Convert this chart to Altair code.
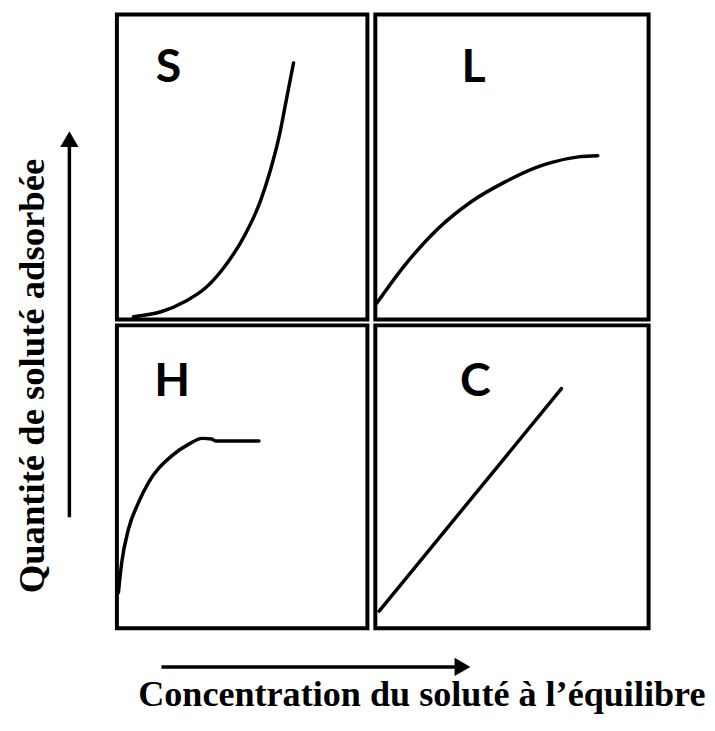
import altair as alt
import pandas as pd

# ---- data (fractions of each panel's width / height) ----
S_x = [0.066, 0.179, 0.272, 0.352, 0.425, 0.511, 0.572, 0.613, 0.649, 0.675, 0.705]
S_y = [0.009, 0.026, 0.059, 0.102, 0.168, 0.277, 0.386, 0.490, 0.605, 0.714, 0.841]
L_x = [0.005, 0.109, 0.231, 0.351, 0.475, 0.597, 0.646, 0.743, 0.814]
L_y = [0.053, 0.179, 0.299, 0.386, 0.451, 0.501, 0.515, 0.533, 0.537]
H_x = [0.006, 0.019, 0.046, 0.086, 0.126, 0.220, 0.287, 0.340, 0.379, 0.393, 0.567]
H_y = [0.118, 0.216, 0.327, 0.415, 0.481, 0.570, 0.608, 0.627, 0.625, 0.618, 0.618]
C_x = [0.014, 0.681]
C_y = [0.057, 0.791]

panel_names = ["S", "L", "H", "C"]
label_x = [0.206, 0.360, 0.221, 0.366]
label_y = [0.779, 0.779, 0.768, 0.768]

y_title = "Quantité de soluté adsorbée"
x_title = "Concentration du soluté à l’équilibre"

# arrows and titles (fractions of their strips)
y_arrow_x = [0.610, 0.610]
y_arrow_y = [0.181, 0.797]
x_arrow_x = [0.0756, 0.5866]
x_arrow_y = [0.534, 0.534]
y_title_pos = [0.350, 0.411]
x_title_pos = [0.5176, 0.0]


def unit_scale():
    return alt.Scale(domain=[0, 1], nice=False, zero=False)


def xy():
    return dict(
        x=alt.X("x:Q", scale=unit_scale(), axis=None),
        y=alt.Y("y:Q", scale=unit_scale(), axis=None),
    )


def panel(name, xs, ys, lx, ly, w, h):
    line = alt.Chart(pd.DataFrame({"x": xs, "y": ys})).mark_line(
        color="black", strokeWidth=3.5, interpolate="monotone", strokeCap="round"
    ).encode(**xy())
    label = alt.Chart(pd.DataFrame({"x": [lx], "y": [ly], "t": [name]})).mark_text(
        font="Lato", fontWeight="bold", fontSize=47, align="center",
        baseline="alphabetic", color="black"
    ).encode(text="t:N", **xy())
    return alt.layer(line, label).properties(
        width=w, height=h,
        view=alt.ViewBackground(stroke="black", strokeWidth=4, fill="white"),
    )


pS = panel(panel_names[0], S_x, S_y, label_x[0], label_y[0], 253, 308)
pL = panel(panel_names[1], L_x, L_y, label_x[1], label_y[1], 276, 308)
pH = panel(panel_names[2], H_x, H_y, label_x[2], label_y[2], 253, 306)
pC = panel(panel_names[3], C_x, C_y, label_x[3], label_y[3], 276, 306)

# ---- vertical arrow + title strip ----
ys_line = alt.Chart(pd.DataFrame({"x": y_arrow_x, "y": y_arrow_y})).mark_line(
    color="black", strokeWidth=3.5
).encode(**xy())
ys_head = alt.Chart(pd.DataFrame({"x": [y_arrow_x[1]], "y": [y_arrow_y[1]]})).mark_point(
    shape="triangle-up", filled=True, size=340, color="black", opacity=1, strokeWidth=0
).encode(**xy())
ys_text = alt.Chart(pd.DataFrame({"x": [y_title_pos[0]], "y": [y_title_pos[1]], "t": [y_title]})).mark_text(
    font="Liberation Serif", fontWeight="bold", fontSize=37, angle=270,
    align="center", baseline="alphabetic", color="black"
).encode(text="t:N", **xy())
ystrip = alt.layer(ys_line, ys_head, ys_text).properties(width=100, height=620)

# ---- horizontal arrow + title strip ----
xs_line = alt.Chart(pd.DataFrame({"x": x_arrow_x, "y": x_arrow_y})).mark_line(
    color="black", strokeWidth=3.5
).encode(**xy())
xs_head = alt.Chart(pd.DataFrame({"x": [x_arrow_x[1]], "y": [x_arrow_y[1]]})).mark_point(
    shape="triangle-right", filled=True, size=340, color="black", opacity=1, strokeWidth=0
).encode(**xy())
xs_text = alt.Chart(pd.DataFrame({"x": [x_title_pos[0]], "y": [x_title_pos[1]], "t": [x_title]})).mark_text(
    font="Liberation Serif", fontWeight="bold", fontSize=36.5,
    align="center", baseline="alphabetic", color="black"
).encode(text="t:N", **xy())
xstrip = alt.layer(xs_line, xs_head, xs_text).properties(width=595, height=73)

grid = alt.concat(pS, pL, pH, pC, columns=2,
                  spacing={"row": 6, "column": 8}, bounds="flush")
right = alt.vconcat(grid, xstrip, spacing=2)

chart = alt.hconcat(ystrip, right, spacing=0).properties(
    padding={"left": 0, "top": 1, "right": 0, "bottom": 0},
    background="white",
).configure_view(stroke="transparent")

chart.save("out.html", embed_options={"renderer": "svg", "actions": False})
